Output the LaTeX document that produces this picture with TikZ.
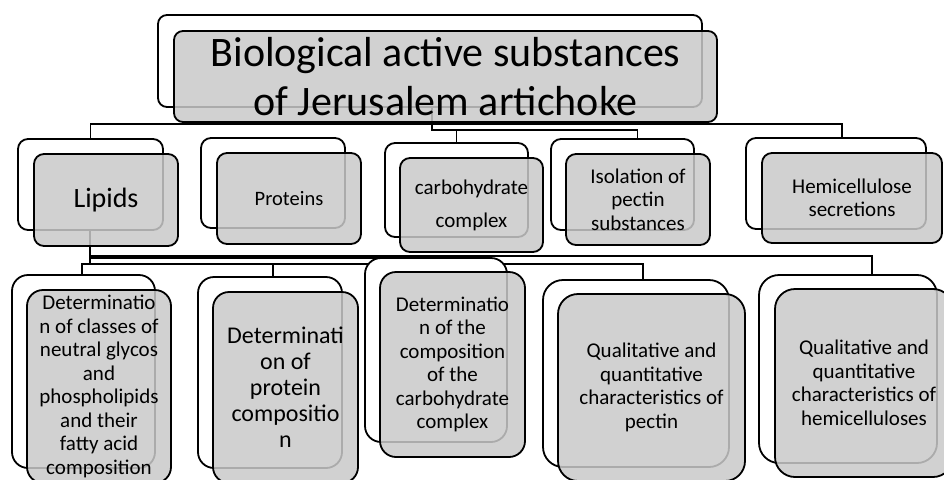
\documentclass[tikz,border=0pt]{standalone}
\usepackage{fontspec}
\setmainfont{Carlito}
\usetikzlibrary{calc,positioning,backgrounds}
\definecolor{boxgrey}{RGB}{201,201,201}

\begin{document}
\begin{tikzpicture}[x=1pt,y=-1pt]

\tikzset{backbox/.style={draw=black,line width=1.8pt,fill=white,inner sep=0pt},
frontbox/.style={draw=black,line width=1.8pt,fill=boxgrey,fill opacity=0.85,text opacity=1,inner sep=0pt,align=center},
link/.style={line width=1.8pt},
smallfont/.style={font=\fontsize{21}{23.5}\selectfont}}

\useasboundingbox (0,0) rectangle (944,479);

% Back boxes
\node[backbox,rounded corners=9pt,minimum width=544,minimum height=92] (topB) at (430,61) {};
\foreach \name/\x/\y/\w/\h/\r in {lipB/90.5/184.5/145/91/10, protB/273/183/144/90/10, carbB/456.5/190/143/94/10, isoB/622.5/184.5/143/91/10, hemiB/836/183.5/180/91/10,
  lipDetB/83.5/371.5/143/193/16, protDetB/270/372.5/144/191/16, carbDetB/436/350/142/184/16, pecQualB/636/373.5/186/187/20, hemQualB/848/369/178/188/20}
  \node[backbox,rounded corners=\r pt,minimum width=\w,minimum height=\h] (\name) at (\x,\y) {};

% Front boxes with text
\node[frontbox,rounded corners=9pt,minimum width=543,minimum height=91,font=\fontsize{42}{49}\selectfont] (top) at (445.5,76.5) {Biological active substances\\of Jerusalem artichoke};

\node[frontbox,rounded corners=10pt,minimum width=144,minimum height=92,font=\fontsize{28}{30}\selectfont] (lip) at (106,200) {Lipids};
\node[frontbox,rounded corners=10pt,minimum width=144,minimum height=91,font=\fontsize{20.5}{23}\selectfont] (prot) at (289,198.5) {Proteins};
\node[frontbox,rounded corners=10pt,minimum width=143,minimum height=94,font=\fontsize{21}{33}\selectfont] (carb) at (471.5,205) {carbohydrate\\complex};
\node[frontbox,rounded corners=10pt,minimum width=144,minimum height=91,smallfont] (iso) at (638,199.5) {Isolation of\\pectin\\substances};
\node[frontbox,rounded corners=10pt,minimum width=180,minimum height=90,smallfont] (hemi) at (852,198) {Hemicellulose\\secretions};

\node[frontbox,rounded corners=16pt,minimum width=144,minimum height=193,smallfont] (lipDet) at (99,386.5) {Determinatio\\n of classes of\\neutral glycos\\and\\phospholipids\\and their\\fatty acid\\composition};
\node[frontbox,rounded corners=16pt,minimum width=145,minimum height=191,font=\fontsize{24}{26}\selectfont] (protDet) at (285.5,387.5) {Determinati\\on of\\protein\\compositio\\n};
\node[frontbox,rounded corners=16pt,minimum width=145,minimum height=185,smallfont] (carbDet) at (452.5,364.5) {Determinatio\\n of the\\composition\\of the\\carbohydrate\\complex};
\node[frontbox,rounded corners=20pt,minimum width=187,minimum height=187,smallfont] (pecQual) at (651.5,387.5) {Qualitative and\\quantitative\\characteristics of\\pectin};
\node[frontbox,rounded corners=20pt,minimum width=178,minimum height=188,smallfont] (hemQual) at (864,383) {Qualitative and\\quantitative\\characteristics of\\hemicelluloses};

% Connectors (under the boxes)
\begin{pgfonlayer}{background}
\draw[link] (lipB.north) -- ++(0,-14) -| ([xshift=6]hemiB.north);
\draw[link] ([xshift=-13.5]top.center) -- ++(0,53.5) -| ([xshift=15]isoB.north);
\draw[link] (carbB.north) -- ++(0,-13);
\draw[link] ([xshift=-16]lip.center) -- ++(0,64) coordinate (lipJ) -| ([xshift=-1.5]lipDetB.north);
\draw[link] (lipJ) -| ([xshift=3]protDetB.north);
\draw[link] (lipJ) -| ([xshift=7]pecQualB.north);
\draw[link] ([xshift=-16]lip.center) ++(0,56) -| ([xshift=24]hemQualB.north);
\draw[link] ([xshift=-16]lip.center) ++(0,58) -| (carbDetB.north);
\end{pgfonlayer}

\end{tikzpicture}
\end{document}
